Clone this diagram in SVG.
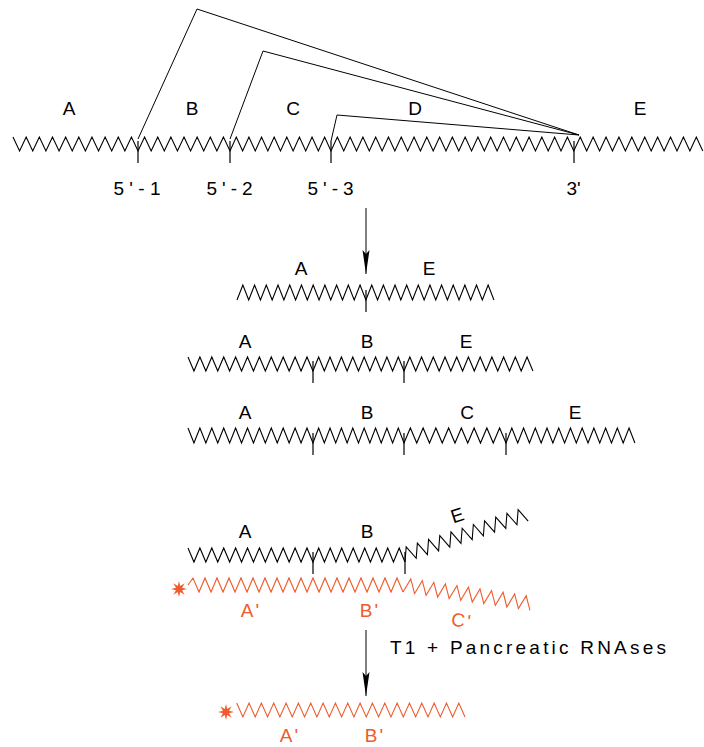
<svg xmlns="http://www.w3.org/2000/svg" xmlns:xlink="http://www.w3.org/1999/xlink" width="704" height="747" viewBox="0 0 704 747">
<style>
.z{fill:none;stroke:#000;stroke-width:1.1;stroke-linejoin:miter}
.zr{fill:none;stroke:#F05A2C;stroke-width:1.1}
.t{fill:none;stroke:#000;stroke-width:1.2}
.c{fill:none;stroke:#000;stroke-width:1}
text{font-family:"Liberation Sans",Arial,sans-serif;font-size:19px;text-anchor:middle;fill:#000}
.r{fill:#F05A2C;letter-spacing:2px}
</style>
<defs>
<marker id="ah" viewBox="0 0 24 8" markerWidth="24" markerHeight="8" refX="24" refY="4" orient="auto" markerUnits="userSpaceOnUse"><path d="M0,0.5 L24,4 L0,7.5 L4,4 z" fill="#000"/></marker>
<polygon id="star" points="8,0 3,1.24 5.66,5.66 1.24,3 0,8 -1.24,3 -5.66,5.66 -3,1.24 -8,0 -3,-1.24 -5.66,-5.66 -1.24,-3 0,-8 1.24,-3 5.66,-5.66 3,-1.24" fill="#F05A2C"/>
</defs>

<g id="pre-mRNA">
<path class="z" d="M13,137 l6.58,14 6.58,-14 6.58,14 6.58,-14 6.58,14 6.58,-14 6.58,14 6.58,-14 6.58,14 6.58,-14 6.58,14 6.58,-14 6.58,14 6.58,-14 6.58,14 6.58,-14 6.58,14 6.58,-14 6.58,14
 6.57,-14 6.57,14 6.57,-14 6.57,14 6.57,-14 6.57,14 6.57,-14 6.57,14 6.57,-14 6.57,14 6.57,-14 6.57,14 6.57,-14 6.57,14
 6.31,-14 6.31,14 6.31,-14 6.31,14 6.31,-14 6.31,14 6.31,-14 6.31,14 6.31,-14 6.31,14 6.31,-14 6.31,14 6.31,-14 6.31,14 6.31,-14 6.31,14
 6.39,-14 6.39,14 6.39,-14 6.39,14 6.39,-14 6.39,14 6.39,-14 6.39,14 6.39,-14 6.39,14 6.39,-14 6.39,14 6.39,-14 6.39,14 6.39,-14 6.39,14 6.39,-14 6.39,14 6.39,-14 6.39,14 6.39,-14 6.39,14 6.39,-14 6.39,14 6.39,-14 6.39,14 6.39,-14 6.39,14 6.39,-14 6.39,14 6.39,-14 6.39,14 6.39,-14 6.39,14 6.39,-14 6.39,14 6.39,-14 6.39,14
 6.45,-14 6.45,14 6.45,-14 6.45,14 6.45,-14 6.45,14 6.45,-14 6.45,14 6.45,-14 6.45,14 6.45,-14 6.45,14 6.45,-14 6.45,14 6.45,-14 6.45,14 6.45,-14 6.45,14 6.45,-14 6.45,14"/>
<path class="t" d="M138,141 V163 M230,141 V163 M331,141 V163 M574,141 V163"/>
<text x="69" y="115">A</text>
<text x="192" y="115">B</text>
<text x="293" y="115">C</text>
<text x="415" y="115">D</text>
<text x="640" y="115">E</text>
<text x="137" y="195" textLength="47" lengthAdjust="spacing">5'-1</text>
<text x="229.5" y="195" textLength="46" lengthAdjust="spacing">5'-2</text>
<text x="330.5" y="195" textLength="46" lengthAdjust="spacing">5'-3</text>
<text x="573.5" y="195">3'</text>
</g>

<g id="connectors">
<path class="c" d="M138,139 L197,9 L579,135"/>
<path class="c" d="M230,139 L263,51 L579,135"/>
<path class="c" d="M331,141 L337,115 L579,135"/>
<line class="c" x1="366" y1="208" x2="366" y2="274" marker-end="url(#ah)"/>
<line class="c" x1="366" y1="630" x2="366" y2="696" marker-end="url(#ah)"/>
</g>

<g id="mRNA-AE">
<path class="z" d="M237,300 l5.86,-15 5.86,15 5.86,-15 5.86,15 5.86,-15 5.86,15 5.86,-15 5.86,15 5.86,-15 5.86,15 5.86,-15 5.86,15 5.86,-15 5.86,15 5.86,-15 5.86,15 5.86,-15 5.86,15 5.86,-15 5.86,15 5.86,-15 5.86,15
 5.82,-15 5.82,15 5.82,-15 5.82,15 5.82,-15 5.82,15 5.82,-15 5.82,15 5.82,-15 5.82,15 5.82,-15 5.82,15 5.82,-15 5.82,15 5.82,-15 5.82,15 5.82,-15 5.82,15 5.82,-15 5.82,15 5.82,-15 5.82,15"/>
<path class="t" d="M366,290 V312"/>
<text x="301" y="275">A</text>
<text x="429" y="275">E</text>
</g>

<g id="mRNA-ABE">
<path class="z" d="M188,357 l5.95,14 5.95,-14 5.95,14 5.95,-14 5.95,14 5.95,-14 5.95,14 5.95,-14 5.95,14 5.95,-14 5.95,14 5.95,-14 5.95,14 5.95,-14 5.95,14 5.95,-14 5.95,14 5.95,-14 5.95,14 5.95,-14 5.95,14
 5.69,-14 5.69,14 5.69,-14 5.69,14 5.69,-14 5.69,14 5.69,-14 5.69,14 5.69,-14 5.69,14 5.69,-14 5.69,14 5.69,-14 5.69,14 5.69,-14 5.69,14
 5.86,-14 5.86,14 5.86,-14 5.86,14 5.86,-14 5.86,14 5.86,-14 5.86,14 5.86,-14 5.86,14 5.86,-14 5.86,14 5.86,-14 5.86,14 5.86,-14 5.86,14 5.86,-14 5.86,14 5.86,-14 5.86,14 5.86,-14 5.86,14"/>
<path class="t" d="M313,361 V383 M404,361 V383"/>
<text x="245" y="348">A</text>
<text x="367" y="348">B</text>
<text x="466" y="348">E</text>
</g>

<g id="mRNA-ABCE">
<path class="z" d="M188,428 l5.95,15 5.95,-15 5.95,15 5.95,-15 5.95,15 5.95,-15 5.95,15 5.95,-15 5.95,15 5.95,-15 5.95,15 5.95,-15 5.95,15 5.95,-15 5.95,15 5.95,-15 5.95,15 5.95,-15 5.95,15 5.95,-15 5.95,15
 5.69,-15 5.69,15 5.69,-15 5.69,15 5.69,-15 5.69,15 5.69,-15 5.69,15 5.69,-15 5.69,15 5.69,-15 5.69,15 5.69,-15 5.69,15 5.69,-15 5.69,15
 6.375,-15 6.375,15 6.375,-15 6.375,15 6.375,-15 6.375,15 6.375,-15 6.375,15 6.375,-15 6.375,15 6.375,-15 6.375,15 6.375,-15 6.375,15 6.375,-15 6.375,15
 5.86,-15 5.86,15 5.86,-15 5.86,15 5.86,-15 5.86,15 5.86,-15 5.86,15 5.86,-15 5.86,15 5.86,-15 5.86,15 5.86,-15 5.86,15 5.86,-15 5.86,15 5.86,-15 5.86,15 5.86,-15 5.86,15 5.86,-15 5.86,15"/>
<path class="t" d="M313,433 V455 M404,433 V455 M506,433 V455"/>
<text x="245" y="419">A</text>
<text x="367" y="419">B</text>
<text x="467" y="419">C</text>
<text x="575" y="419">E</text>
</g>

<g id="hybrid-mRNA">
<path class="z" d="M188,548 l5.95,14 5.95,-14 5.95,14 5.95,-14 5.95,14 5.95,-14 5.95,14 5.95,-14 5.95,14 5.95,-14 5.95,14 5.95,-14 5.95,14 5.95,-14 5.95,14 5.95,-14 5.95,14 5.95,-14 5.95,14 5.95,-14 5.95,14
 5.75,-14 5.75,14 5.75,-14 5.75,14 5.75,-14 5.75,14 5.75,-14 5.75,14 5.75,-14 5.75,14 5.75,-14 5.75,14 5.75,-14 5.75,14 5.75,-14 5.75,14"/>
<path class="z" transform="rotate(-18.4 405 562)" d="M405,562 l5.9,-14 5.9,14 5.9,-14 5.9,14 5.9,-14 5.9,14 5.9,-14 5.9,14 5.9,-14 5.9,14 5.9,-14 5.9,14 5.9,-14 5.9,14 5.9,-14 5.9,14 5.9,-14 5.9,14 5.9,-14 5.9,14 5.9,-14 5.9,14"/>
<path class="t" d="M313,552 V574 M405,552 V574"/>
<text x="245" y="538">A</text>
<text x="367" y="538">B</text>
<text x="457" y="522" transform="rotate(-18 457 515)">E</text>
</g>

<g id="hybrid-probe">
<use xlink:href="#star" href="#star" transform="translate(179,589)"/>
<path class="zr" d="M188,585 l5,-7 6,14 6,-14 6,14 6,-14 6,14 6,-14 6,14 6,-14 6,14 6,-14 6,14 6,-14 6,14 6,-14 6,14 6,-14 6,14 6,-14 6,14 6,-14 6,14 6,-14 6,14 6,-14 6,14 6,-14 6,14 6,-14 6,14 6,-14 6,14 6,-14 6,14 6,-14 6,14"/>
<path class="zr" transform="rotate(8.2 403 592)" d="M403,592 l5.83,-14 5.83,14 5.83,-14 5.83,14 5.83,-14 5.83,14 5.83,-14 5.83,14 5.83,-14 5.83,14 5.83,-14 5.83,14 5.83,-14 5.83,14 5.83,-14 5.83,14 5.83,-14 5.83,14 5.83,-14 5.83,14 5.83,-14 5.83,14"/>
<text class="r" x="251" y="617">A'</text>
<text class="r" x="370" y="617">B'</text>
<text class="r" x="462" y="627" transform="rotate(8 461 620)">C'</text>
</g>

<text x="528" y="654" textLength="276" lengthAdjust="spacing">T1 + Pancreatic RNAses</text>

<g id="protected-fragment">
<use xlink:href="#star" href="#star" transform="translate(226,712)"/>
<path class="zr" d="M236.7,703 l6.17,14 6.17,-14 6.17,14 6.17,-14 6.17,14 6.17,-14 6.17,14 6.17,-14 6.17,14 6.17,-14 6.17,14 6.17,-14 6.17,14 6.17,-14 6.17,14 6.17,-14 6.17,14 6.17,-14 6.17,14 6.17,-14 6.17,14 6.17,-14 6.17,14 6.17,-14 6.17,14 6.17,-14 6.17,14 6.17,-14 6.17,14 6.17,-14 6.17,14 6.17,-14 6.17,14 6.17,-14 6.17,14 6.17,-14 6.17,14"/>
<text class="r" x="290" y="742">A'</text>
<text class="r" x="375" y="742">B'</text>
</g>
</svg>
